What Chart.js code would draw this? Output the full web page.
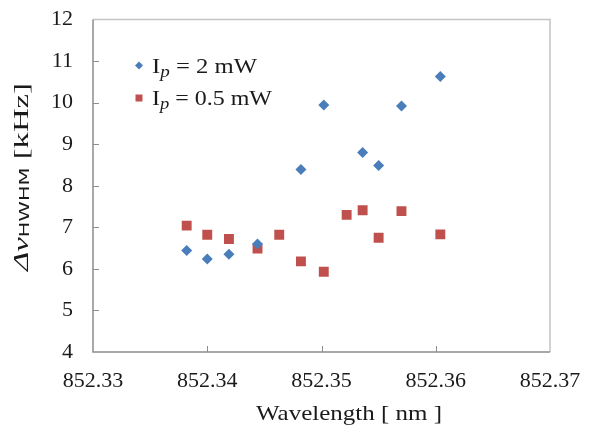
<!DOCTYPE html>
<html>

<head>
  <meta charset="utf-8">
  <title>Linewidth vs Wavelength</title>
  <style>
    body {
      margin: 0;
      padding: 0;
      background-color: #FFF;
    }

    .chart-box {
      width: 590px;
      height: 428px;
    }
  </style>
</head>

<body>
  <div class="chart-box">
    <canvas id="lwChart" width="590" height="428"></canvas>
  </div>

  <script src="https://cdn.jsdelivr.net/npm/chart.js"></script>

  <script>
    // Wavelength [nm] and HWHM linewidth [kHz]
    const wl2mW = [852.3382, 852.3400, 852.3419, 852.3444, 852.3482, 852.3502, 852.3536, 852.3550, 852.3570, 852.3604];
    const lw2mW = [6.44, 6.24, 6.35, 6.60, 8.39, 9.94, 8.80, 8.49, 9.92, 10.63];

    const wl05mW = [852.3382, 852.3400, 852.3419, 852.3444, 852.3463, 852.3482, 852.3502, 852.3522, 852.3536, 852.3550, 852.3570, 852.3604];
    const lw05mW = [7.04, 6.82, 6.72, 6.49, 6.82, 6.18, 5.93, 7.30, 7.41, 6.75, 7.39, 6.83];

    const xTicks = [852.33, 852.34, 852.35, 852.36, 852.37];
    const yTicks = [4, 5, 6, 7, 8, 9, 10, 11, 12];

    const BLUE = '#4A7EBB';
    const RED = '#C0504D';
    const INK = '#1A1A1A';
    const SERIF = '"Liberation Serif", "DejaVu Serif", serif';

    const toPoints = (xs, ys) => xs.map((x, i) => ({ x: x, y: ys[i] }));

    // draws a run of text pieces, stretched along the baseline to a given length
    function drawRun(ctx, parts, x, y, width, align) {
      let total = 0;
      parts.forEach(p => { ctx.font = p.f; p.w = ctx.measureText(p.t).width; total += p.w; });
      const k = width / total;
      ctx.save();
      ctx.translate(align === 'center' ? x - width / 2 : x, y);
      ctx.scale(k, 1);
      let cx = 0;
      parts.forEach(p => {
        ctx.font = p.f;
        ctx.fillText(p.t, cx, p.dy || 0);
        cx += p.w;
      });
      ctx.restore();
    }

    // Frame, inside tick marks, axis titles and legend (subscripts need manual text)
    const decorations = {
      id: 'decorations',
      beforeDatasetsDraw(chart) {
        const { ctx, chartArea: a, scales } = chart;
        ctx.save();
        ctx.lineWidth = 1.5;
        ctx.strokeStyle = '#C4C4C4';
        ctx.beginPath();
        ctx.moveTo(a.left, a.top);
        ctx.lineTo(a.right, a.top);
        ctx.lineTo(a.right, a.bottom);
        ctx.stroke();

        ctx.strokeStyle = '#8C8C8C';
        ctx.beginPath();
        ctx.moveTo(a.left, a.top);
        ctx.lineTo(a.left, a.bottom);
        ctx.lineTo(a.right, a.bottom);
        ctx.stroke();

        ctx.lineWidth = 1;
        ctx.beginPath();
        yTicks.slice(1, -1).forEach(v => {
          const py = Math.round(scales.y.getPixelForValue(v)) + 0.5;
          ctx.moveTo(a.left, py);
          ctx.lineTo(a.left + 6, py);
        });
        xTicks.slice(1, -1).forEach(v => {
          const px = Math.round(scales.x.getPixelForValue(v)) + 0.5;
          ctx.moveTo(px, a.bottom);
          ctx.lineTo(px, a.bottom - 6);
        });
        ctx.stroke();
        ctx.restore();
      },
      afterDraw(chart) {
        const { ctx } = chart;
        ctx.save();
        ctx.fillStyle = INK;
        ctx.textBaseline = 'alphabetic';

        // x axis title
        drawRun(ctx, [{ t: 'Wavelength [ nm ]', f: '22px ' + SERIF }], 349, 420, 186, 'center');

        // y axis title: Δν_HWHM [kHz], rotated
        ctx.save();
        ctx.translate(28, 177);
        ctx.rotate(-Math.PI / 2);
        drawRun(ctx, [
          { t: 'Δν', f: 'italic 22px ' + SERIF },
          { t: 'HWHM', f: '14px "DejaVu Sans", sans-serif', dy: 1 },
          { t: ' [kHz]', f: '22px ' + SERIF }
        ], 0, 0, 188, 'center');
        ctx.restore();

        // legend
        const rows = [
          { y: 65.5, color: BLUE, shape: 'diamond', rest: ' = 2 mW', w: 105 },
          { y: 98, color: RED, shape: 'square', rest: ' = 0.5 mW', w: 120 }
        ];
        rows.forEach(r => {
          ctx.fillStyle = r.color;
          ctx.beginPath();
          if (r.shape === 'diamond') {
            ctx.moveTo(139, r.y - 4);
            ctx.lineTo(143, r.y);
            ctx.lineTo(139, r.y + 4);
            ctx.lineTo(135, r.y);
          } else {
            ctx.rect(135.5, r.y - 3.5, 7, 7);
          }
          ctx.fill();

          ctx.fillStyle = INK;
          drawRun(ctx, [
            { t: 'I', f: '22px ' + SERIF },
            { t: 'p', f: 'italic 17px ' + SERIF, dy: 4 },
            { t: r.rest, f: '22px ' + SERIF }
          ], 152, r.y + 7, r.w, 'left');
        });
        ctx.restore();
      }
    };

    new Chart(document.getElementById('lwChart'), {
      type: 'scatter',
      data: {
        datasets: [
          {
            label: 'Ip = 2 mW',
            data: toPoints(wl2mW, lw2mW),
            pointStyle: 'rectRot',
            pointRadius: 5.5,
            backgroundColor: BLUE,
            borderColor: BLUE,
            borderWidth: 0
          },
          {
            label: 'Ip = 0.5 mW',
            data: toPoints(wl05mW, lw05mW),
            pointStyle: 'rect',
            pointRadius: 7,
            backgroundColor: RED,
            borderColor: RED,
            borderWidth: 0
          }
        ]
      },
      options: {
        responsive: false,
        animation: false,
        layout: { padding: { left: 0, top: 19.5, right: 40, bottom: 0 } },
        plugins: {
          legend: { display: false },
          tooltip: { enabled: false }
        },
        scales: {
          x: {
            type: 'linear',
            min: 852.33,
            max: 852.37,
            afterBuildTicks: s => { s.ticks = xTicks.map(v => ({ value: v })); },
            afterFit: s => { s.height = 76; s.paddingLeft = 0; s.paddingRight = 0; },
            grid: { display: false },
            border: { display: false },
            ticks: {
              padding: 8,
              color: INK,
              font: { family: SERIF, size: 22 },
              callback: v => v.toFixed(2)
            }
          },
          y: {
            min: 4,
            max: 12,
            afterBuildTicks: s => { s.ticks = yTicks.map(v => ({ value: v })); },
            afterFit: s => { s.width = 93; s.paddingTop = 0; s.paddingBottom = 0; },
            grid: { display: false },
            border: { display: false },
            ticks: {
              padding: 12,
              color: INK,
              font: { family: SERIF, size: 22 }
            }
          }
        }
      },
      plugins: [decorations]
    });
  </script>
</body>

</html>
